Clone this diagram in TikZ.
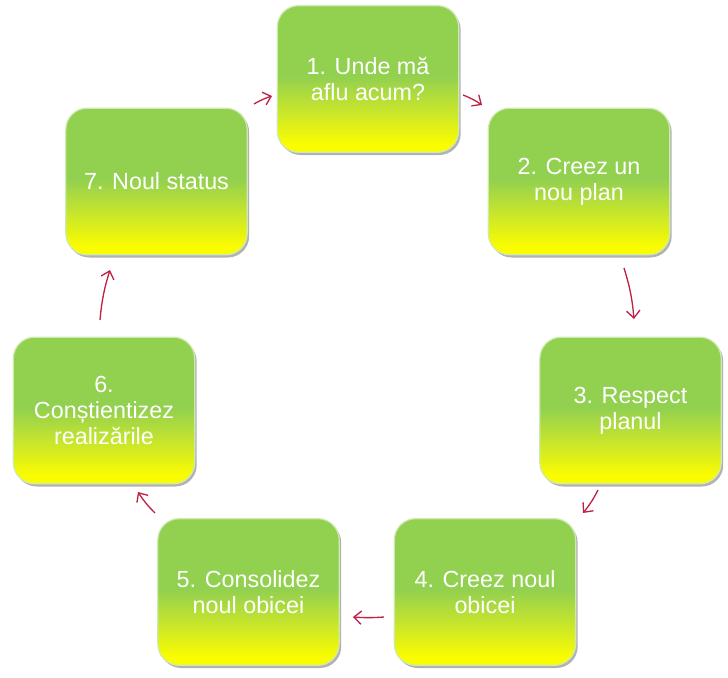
\documentclass[tikz,border=0pt]{standalone}
\usepackage{fontspec}
\setmainfont{Liberation Sans}
\usetikzlibrary{arrows.meta,shadows,shadings}
\definecolor{bgreen}{RGB}{146,208,80}
\definecolor{bmid}{RGB}{205,232,40}
\definecolor{byellow}{RGB}{250,252,0}
\definecolor{arrred}{RGB}{190,35,70}
\pgfdeclareverticalshading{gyshade}{100bp}{color(0bp)=(byellow); color(28bp)=(byellow); color(38bp)=(bmid); color(51bp)=(bgreen); color(100bp)=(bgreen)}
\tikzset{
  stepbox/.style={rectangle, rounded corners=16pt, minimum width=136pt, minimum height=110pt,
    shading=gyshade, draw=white!55!bgreen, line width=0.9pt,
    drop shadow={shadow xshift=1.5pt, shadow yshift=-2pt, opacity=0.3, fill=black},
    text=white, font=\fontsize{17.5}{19.5}\selectfont, align=center},
  arr/.style={draw=arrred, line width=1pt, -{Straight Barb[length=5.5pt,width=10pt]}}
}
\begin{document}
\begin{tikzpicture}[x=0.75pt,y=-0.75pt]
\useasboundingbox (0,0) rectangle (728,678);
\node[stepbox] (n1) at (368,79) {1. Unde mă\\aflu acum?};
\node[stepbox] (n2) at (579,181.5) {2. Creez un\\nou plan};
\node[stepbox] (n3) at (630.5,410.5) {3. Respect\\planul};
\node[stepbox] (n4) at (485,592) {4. Creez noul\\obicei};
\node[stepbox] (n5) at (248.5,592) {5. Consolidez\\noul obicei};
\node[stepbox] (n6) at (104,410.5) {6.\\Conștientizez\\realizările};
\node[stepbox] (n7) at (156.5,181.5) {7. Noul status};
% arrow end points
\coordinate (a1s) at (254,104); \coordinate (a1e) at (272,96);
\coordinate (a2s) at (463,95);  \coordinate (a2e) at (482,105);
\coordinate (a3s) at (624,268); \coordinate (a3e) at (634,319);
\coordinate (a4s) at (598,490); \coordinate (a4e) at (583,513);
\coordinate (a5s) at (384,617); \coordinate (a5e) at (353,617);
\coordinate (a6s) at (155,513); \coordinate (a6e) at (138,492);
\coordinate (a7s) at (100,320); \coordinate (a7e) at (110,270);
\draw[arr] (a1s) to[bend left=6] (a1e);
\draw[arr] (a2s) to[bend left=6] (a2e);
\draw[arr] (a3s) to[bend left=6] (a3e);
\draw[arr] (a4s) to[bend left=6] (a4e);
\draw[arr] (a5s) to[bend left=4] (a5e);
\draw[arr] (a6s) to[bend left=6] (a6e);
\draw[arr] (a7s) to[bend left=6] (a7e);
\end{tikzpicture}
\end{document}
